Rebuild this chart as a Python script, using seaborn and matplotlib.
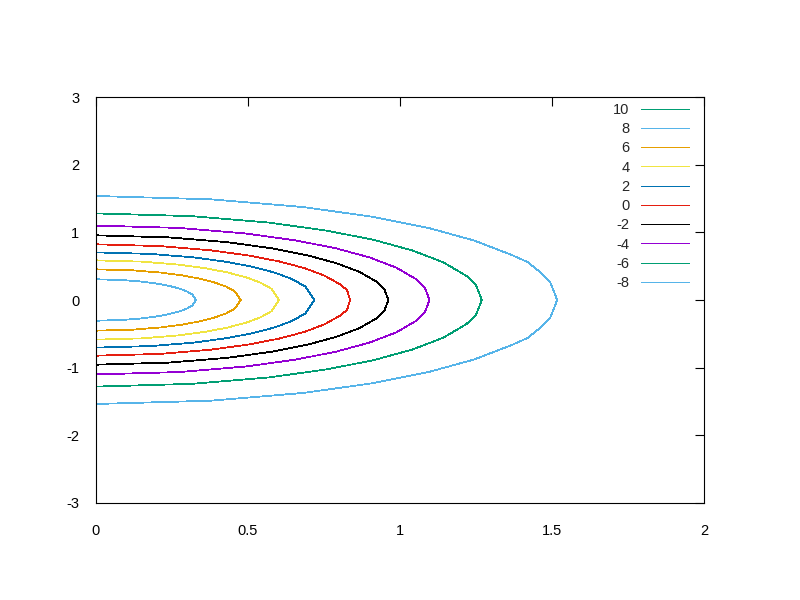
import matplotlib
matplotlib.use("Agg")
import matplotlib.pyplot as plt
import numpy as np
import seaborn as sns

# Contour levels (legend order) and gnuplot default line colours.
levels = ["10", "8", "6", "4", "2", "0", "-2", "-4", "-6", "-8"]
colors = ["#009e73", "#56b4e9", "#e69f00", "#f0e442", "#0072b2",
          "#e51e10", "#000000", "#9400d3", "#009e73", "#56b4e9"]

# Upper half of each contour, x then y.
# Level 10 collapses to a point at the origin and draws nothing.
x_8 = [0, .082, .148, .197, .237, .270, .296, .316, .329]
y_8 = [.306, .296, .273, .245, .212, .175, .133, .086, 0]
x_6 = [0, .119, .214, .286, .343, .390, .428, .457, .476]
y_6 = [.453, .439, .405, .362, .314, .259, .198, .127, 0]
x_4 = [0, .151, .271, .361, .433, .494, .542, .578, .602]
y_4 = [.586, .567, .523, .469, .407, .335, .255, .164, 0]
x_2 = [0, .180, .323, .431, .517, .589, .646, .689, .718]
y_2 = [.704, .681, .629, .563, .489, .403, .307, .197, 0]
x_0 = [0, .209, .376, .502, .602, .686, .752, .803, .826, .836]
y_0 = [.823, .797, .735, .658, .571, .471, .359, .230, .145, 0]
x_m2 = [0, .241, .433, .577, .693, .789, .866, .924, .948, .962]
y_m2 = [.956, .925, .854, .765, .663, .547, .417, .268, .165, 0]
x_m4 = [0, .274, .494, .658, .790, .900, .987, 1.053, 1.081, 1.097]
y_m4 = [1.10, 1.065, .982, .880, .763, .629, .480, .308, .190, 0]
x_m6 = [0, .317, .571, .761, .914, 1.041, 1.142, 1.218, 1.250, 1.269]
y_m6 = [1.28, 1.239, 1.143, 1.024, .888, .732, .558, .358, .221, 0]
x_m8 = [0, .379, .683, .910, 1.092, 1.244, 1.365, 1.420, 1.456, 1.494, 1.517]
y_m8 = [1.537, 1.488, 1.373, 1.23, 1.067, .879, .670, .560, .430, .266, 0]

curves = {
    "10": ([], []),
    "8": (x_8, y_8), "6": (x_6, y_6), "4": (x_4, y_4), "2": (x_2, y_2),
    "0": (x_0, y_0), "-2": (x_m2, y_m2), "-4": (x_m4, y_m4),
    "-6": (x_m6, y_m6), "-8": (x_m8, y_m8),
}

xticks = [0, 0.5, 1, 1.5, 2]
xtick_labels = ["0", "0.5", "1", "1.5", "2"]
yticks = [-3, -2, -1, 0, 1, 2, 3]
ytick_labels = ["-3", "-2", "-1", "0", "1", "2", "3"]

LW = 0.72  # one pixel at 100 dpi

sns.set_theme(style="white")
plt.rcParams["font.family"] = ["Liberation Sans", "DejaVu Sans"]
plt.rcParams["axes.unicode_minus"] = False

fig = plt.figure(figsize=(8, 6), dpi=100)
ax = fig.add_axes([0.12, 0.1617, 0.76, 0.6766])

for lev, col in zip(levels, colors):
    xs, ys = curves[lev]
    xs = np.asarray(xs, dtype=float)
    ys = np.asarray(ys, dtype=float)
    # mirror the upper half to close the curve below the x axis
    full_x = np.concatenate([xs, xs[::-1][1:]]) if len(xs) else xs
    full_y = np.concatenate([ys, -ys[::-1][1:]]) if len(ys) else ys
    if len(full_x):
        sns.lineplot(x=full_x, y=full_y, sort=False, estimator=None, ax=ax,
                     color=col, label=lev)
    else:
        ax.plot([], [], color=col, label=lev)

# thin, crisp gnuplot-style strokes
for line in ax.lines:
    line.set_linewidth(0.55)
    line.set_antialiased(False)

ax.set_xlim(0, 2)
ax.set_ylim(-3, 3)
ax.set_xticks(xticks)
ax.set_xticklabels(xtick_labels)
ax.set_yticks(yticks)
ax.set_yticklabels(ytick_labels)
ax.tick_params(axis="both", direction="in", length=6.5, width=0.8,
               top=True, right=True, labelsize=10.5, colors="black")
ax.tick_params(axis="x", pad=15)
ax.tick_params(axis="y", pad=12)
for s in ax.spines.values():
    s.set_color("black")
    s.set_linewidth(0.8)
ax.set_xlabel("")
ax.set_ylabel("")

leg = ax.legend(loc="upper right", bbox_to_anchor=(0.985, 1.0), frameon=False,
                markerfirst=False, fontsize=10.5, handlelength=3.3,
                handletextpad=0.8, labelspacing=0.36, borderaxespad=0)
for line in leg.get_lines():
    line.set_linewidth(LW)
    line.set_antialiased(False)

fig.savefig("out.png", dpi=100)
